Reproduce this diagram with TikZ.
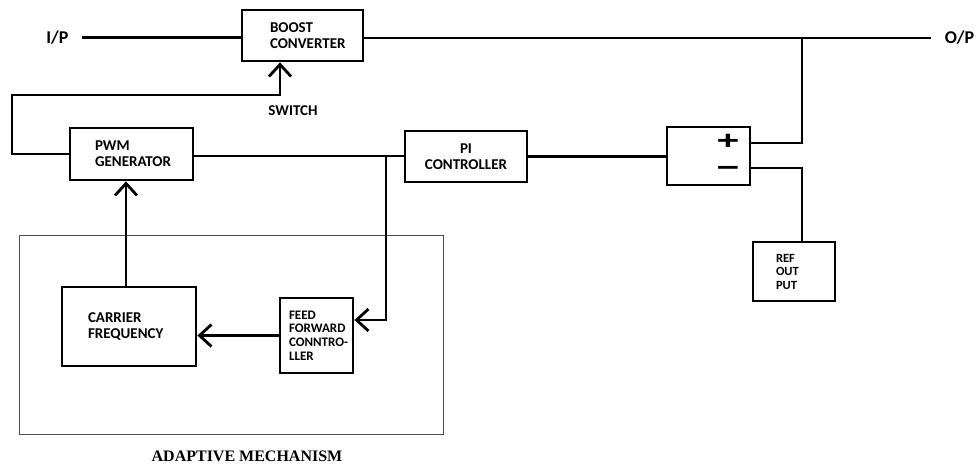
\documentclass[tikz,border=0pt]{standalone}
\usepackage{fontspec}
\setmainfont{Carlito}
\newfontfamily\serifbold{Liberation Serif}
\newfontfamily\signfont{Liberation Sans}
\usetikzlibrary{arrows.meta}
\begin{document}
\begin{tikzpicture}[x=1pt,y=-1pt,
  line width=2.8pt,
  blk/.style={draw, line width=2.8pt, rectangle, align=left, font=\fontsize{15}{16}\selectfont\bfseries, inner ysep=0pt},
  lbl/.style={font=\fontsize{15}{16}\selectfont\bfseries, inner sep=0pt},
  io/.style={font=\fontsize{18}{20}\selectfont\bfseries, inner sep=0pt},
  sign/.style={font=\fontsize{26}{26}\selectfont\signfont\bfseries, inner sep=0pt, xscale=1.5},
  arr/.style={-{Straight Barb[length=12pt,width=22pt]}},
  wire/.style={line width=2.8pt}
]
\useasboundingbox (0,0) rectangle (977,464);

% adaptive mechanism frame
\node[draw=black!70, line width=1pt, minimum width=424pt, minimum height=199pt, inner sep=0pt] (adapt) at (231,334.5) {};
\node[font=\fontsize{16}{17}\selectfont\serifbold\bfseries, inner sep=0pt] (adaptlbl) at (247,456) {ADAPTIVE MECHANISM};

% blocks
\node[blk, minimum width=121pt, minimum height=51pt, inner xsep=28pt, text width=65pt] (boost) at (302.5,35.5) {BOOST\\CONVERTER};
\node[blk, minimum width=123pt, minimum height=52pt, inner xsep=25pt, text width=73pt] (pwm) at (131.5,154) {PWM\\GENERATOR};
\node[blk, minimum width=122pt, minimum height=51pt, inner xsep=10pt, text width=102pt, align=center] (pi) at (466,156.5) {PI\hspace*{20pt}\\CONTROLLER};
\node[draw, line width=2.8pt, minimum width=83pt, minimum height=58pt, inner sep=0pt] (sum) at (708.5,156) {};
\node[sign] (plus) at (728,141.5) {+};
\node[sign] (minus) at (728,171.5) {−};
\node[blk, minimum width=82pt, minimum height=59pt, inner xsep=23pt, text width=36pt, font=\fontsize{12.5}{13.5}\selectfont\bfseries] (ref) at (794,271.5) {REF\\OUT\\PUT};
\node[blk, minimum width=134pt, minimum height=79pt, inner xsep=26pt, text width=82pt] (carrier) at (129,326.5) {CARRIER\\FREQUENCY};
\node[blk, minimum width=73pt, minimum height=75pt, inner xsep=9pt, text width=55pt, font=\fontsize{13}{13.7}\selectfont\bfseries] (ff) at (316.5,335.5) {FEED\\FORWARD\\\mbox{CONNTRO-}\\LLER};

% labels
\node[io] (ip) at (57.5,37.5) {I/P};
\node[io] (op) at (959.5,38) {O/P};
\node[lbl] (switch) at (293,111) {SWITCH};

% coordinates
\coordinate (j1) at (802,38);
\coordinate (j2) at (386,156);
\coordinate (swc) at (12,95);

% wires
\draw[wire] ([xshift=12pt]ip.east) -- (ip.east -| boost.west);
\draw[wire] (boost.east |- op) -- ([xshift=-12pt]op.west);
\draw[wire] ([yshift=13pt]sum.east) -| (j1);
\draw[wire] ([yshift=-12pt]sum.east) -| ([xshift=8pt]ref.north);
\draw[wire] (pi.east) -- (pi.east -| sum.west);
\draw[wire] (pwm.east |- j2) -- (j2 -| pi.west);
\draw[wire,arr] (j2) |- ([yshift=15.5pt]ff.east);
\draw[wire,arr] (ff.west) -- (ff.west -| carrier.east);
\draw[wire,arr] ([xshift=-3pt]carrier.north) -- ([xshift=-3pt]carrier.north |- pwm.south);
\draw[wire,arr] (pwm.west) -| (swc) -| ([xshift=-22.5pt]boost.south);
\end{tikzpicture}
\end{document}
